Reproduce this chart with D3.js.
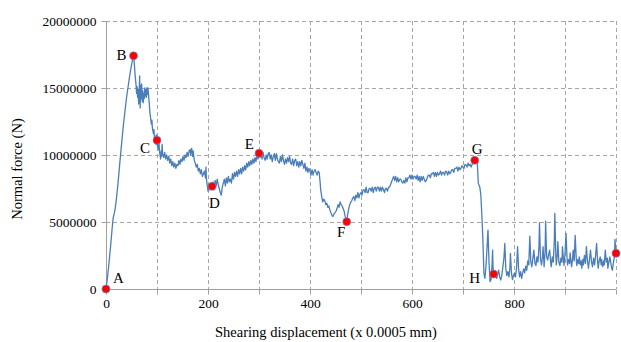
<!DOCTYPE html>
<html>
<head>
<meta charset="utf-8">
<script src="https://cdn.jsdelivr.net/npm/d3@7/dist/d3.min.js"></script>
<style>
  html, body { margin: 0; padding: 0; background: #fff; }
  svg { display: block; }
  text { font-family: "Liberation Serif", "Times New Roman", serif; fill: #000; }
</style>
</head>
<body>
<svg id="chart" width="621" height="342" font-family="Liberation Serif, serif"></svg>
<script>
// Shear test record: [shearing displacement (x 0.0005 mm), normal force (MN)]
const curve = [
  [0,0],[3,0.9],[6,2.0],[9,3.2],[12,4.5],[14,5.3],[16,5.6],[18,6.0],[20,6.6],[22,7.3],[25,8.5],[28,9.8],[31,11.0],[34,12.2],[37,13.2],[40,14.2],[43,15.0],[46,15.8],[49,16.5],[52,17.1],[54,17.4],
  [55,17.1],[57,16.0],[59,15.2],[60,14.6],[61,15.1],[62,14.3],[63,14.9],[64,13.8],[65,14.6],[66,15.9],[67,13.5],[68,15.2],[69,14.2],[70,15.3],[71,14.0],[72,14.8],[73,13.9],[74,14.6],[75,14.2],[76,15.0],[77,14.4],[78,14.9],[79,14.3],[80,15.0],[81,14.5],[82,15.0],[83,14.7],[84,14.2],[85,13.8],[86,13.2],[87,12.9],[88,12.6],[89,12.3],[90,12.6],[91,12.0],[92,11.8],[93,11.6],[94,11.9],[95,11.3],[96,11.0],[97,11.4],[98,10.8],[99,11.5],[100,11.1],
  [101,10.6],[102,11.3],[103,10.4],[104,10.9],[105,10.2],[106,10.0],[107,9.7],[108,10.3],[109,9.9],[110,10.8],[111,10.1],[113,9.8],[115,10.2],[117,9.7],[119,10.0],[121,9.6],[123,9.9],[125,9.4],[127,9.7],[129,9.2],[131,9.5],[133,9.1],[135,9.4],[137,9.0],[139,9.3],[141,9.2],[143,9.6],[145,9.3],[147,9.7],[149,9.5],[151,9.9],[153,9.6],[155,10.0],[157,9.8],[159,10.2],[161,9.9],[163,10.3],[165,10.4],[166,10.0],[168,10.5],[170,9.9],[171,10.3],[173,9.6],[175,9.4],[177,9.1],[179,9.3],[181,8.8],[183,9.0],[185,8.6],[187,8.9],[189,8.4],[191,8.6],[193,8.8],[195,8.3],[196,9.1],[197,8.2],[199,7.6],[200,7.3],[202,7.8],[204,7.4],[206,7.9],[208,7.66],
  [210,8.0],[212,7.4],[214,8.1],[216,7.7],[218,8.2],[220,7.8],[222,7.5],[224,7.2],[226,7.0],[228,7.6],[230,7.9],[232,8.2],[234,7.7],[236,8.3],[238,7.9],[240,8.4],[242,8.0],[244,8.2],[246,7.9],[248,8.6],[250,8.2],[252,8.7],[254,8.4],[256,8.8],[258,8.4],[260,8.9],[262,8.6],[264,9.0],[266,8.6],[268,9.1],[270,8.8],[272,9.2],[274,8.9],[276,9.4],[278,9.1],[280,9.5],[282,9.2],[284,9.6],[286,9.3],[288,9.7],[290,9.4],[292,9.8],[294,9.5],[296,10.0],[298,9.7],[300,10.13],
  [302,9.8],[304,10.1],[306,9.7],[308,10.2],[310,9.8],[312,9.6],[314,10.0],[316,9.7],[318,10.1],[320,10.2],[322,9.7],[324,10.0],[326,9.5],[328,9.9],[330,10.1],[332,9.6],[334,10.1],[336,9.7],[338,9.5],[340,9.4],[342,9.9],[344,9.5],[346,10.0],[348,9.6],[350,9.3],[352,9.7],[354,9.4],[356,9.8],[358,9.5],[360,9.9],[362,9.4],[364,9.3],[366,9.7],[368,9.2],[370,9.6],[372,9.7],[374,9.2],[376,9.5],[378,9.1],[380,9.5],[382,9.2],[384,9.6],[386,9.3],[388,9.0],[390,9.4],[392,8.8],[394,9.1],[396,8.7],[398,9.0],[400,8.8],[402,8.5],[404,8.9],[406,8.5],[408,8.8],[410,8.9],[412,8.7],[414,8.5],[416,8.8],[418,8.7],
  [420,7.9],[421,7.4],[423,6.9],[425,6.5],[427,6.7],[429,6.6],[431,6.3],[433,6.4],[435,6.1],[437,6.2],[439,5.9],[441,5.7],[443,5.5],[445,5.4],[447,5.6],[449,5.7],[451,5.8],[453,6.0],[455,6.3],[457,6.1],[459,6.5],[461,6.3],[463,6.2],[465,6.0],[467,5.8],[469,5.4],[472,5.02],
  [474,5.6],[476,6.0],[478,6.3],[480,6.5],[482,6.6],[484,6.8],[486,6.9],[488,6.6],[490,7.0],[492,6.8],[494,7.2],[496,6.8],[498,7.1],[500,7.2],[502,7.0],[504,7.4],[506,7.4],[508,7.2],[510,7.6],[512,7.2],[514,7.2],[516,7.5],[518,7.5],[520,7.3],[522,7.6],[524,7.2],[526,7.5],[528,7.6],[530,7.3],[532,7.6],[534,7.6],[536,7.3],[538,7.6],[540,7.3],[542,7.6],[544,7.4],[546,7.2],[548,7.5],[550,7.5],[552,7.3],[554,7.6],[556,7.6],[558,7.8],[560,8.0],[562,8.2],[564,8.4],[566,8.1],[568,8.4],[570,8.0],[572,8.3],[574,8.0],[576,8.2],[578,8.2],[580,8.0],[582,7.9],[584,8.1],[586,7.9],[588,8.3],[590,8.0],[592,8.3],[594,8.3],[596,8.5],[598,8.2],[600,8.5],
  [602,8.2],[604,8.4],[606,8.4],[608,8.2],[610,8.5],[612,8.1],[614,8.4],[616,8.0],[618,8.4],[620,8.1],[622,8.4],[624,8.2],[626,8.0],[628,8.1],[630,8.3],[632,8.5],[634,8.5],[636,8.3],[638,8.6],[640,8.6],[642,8.7],[644,8.4],[646,8.7],[648,8.4],[650,8.7],[652,8.5],[654,8.6],[656,8.8],[658,8.5],[660,8.7],[662,8.7],[664,8.5],[666,8.8],[668,8.75],[670,8.5],[672,8.8],[674,8.6],[676,8.7],[678,8.9],[680,8.9],[682,8.7],[684,9.0],[686,9.0],[688,9.1],[690,8.8],[692,9.1],[694,8.9],[696,9.0],[698,9.2],[700,9.1],[702,9.0],[704,9.3],[706,9.25],[708,9.1],[710,9.4],[712,9.2],[714,9.3],[716,9.1],[718,9.3],[720,9.5],[722,9.4],[723,9.6],
  [726,9.6],[728,9.5],[730,7.9],[733,7.6],[735,7.0],[737,5.5],[739,3.66],[741,1.17],[743,0.8],[745,1.7],[747,3.0],[749,4.4],[751,2.0],[753,0.55],[755,0.7],[757,1.8],[758,2.9],[759,1.5],[760,1.12],
  [762,0.9],[764,1.3],[766,0.8],[768,1.1],[770,1.4],[772,0.9],[774,0.67],[776,1.0],[778,1.6],[780,2.2],[782,3.4],[784,1.5],[786,1.0],[788,1.3],[790,0.9],[792,1.6],[793,2.66],[795,1.2],[797,0.7],[799,1.0],[801,1.2],[803,0.9],[805,1.6],[807,3.16],[809,1.5],[811,0.9],[813,1.3],[815,0.8],[817,1.2],[819,1.5],[821,1.2],[823,1.7],[825,1.4],[827,2.1],[829,1.8],[831,3.95],[833,2.0],[835,1.66],[837,2.3],[839,2.9],[841,1.9],[843,1.75],[845,2.4],[847,2.0],[849,3.2],[850,4.95],[852,2.2],[854,1.8],[856,2.5],[857,3.16],[859,1.66],[861,2.8],[862,5.07],[864,2.4],[866,2.16],[868,2.6],[870,2.9],[872,1.9],[873,1.66],[875,2.4],[877,2.0],[879,3.5],[880,5.65],[882,2.5],[883,1.8],[885,2.6],[886,3.53],[888,2.0],[890,1.75],[892,2.3],[894,2.0],[895,3.16],[897,2.2],[898,1.75],[900,2.6],
  [902,4.15],[904,2.3],[905,1.8],[907,2.2],[909,1.9],[910,2.7],[912,2.0],[913,1.66],[915,2.3],[916,2.9],[918,2.1],[920,4.0],[922,2.3],[923,1.75],[925,2.2],[927,1.9],[928,2.4],[930,1.8],[932,2.1],[933,1.55],[935,2.2],[936,1.8],[938,2.5],[940,1.9],[942,3.16],[944,2.1],[946,1.55],[948,2.2],[950,2.9],[952,2.0],[954,1.66],[956,2.3],[958,1.8],[960,2.5],[962,3.4],[964,2.0],[965,1.55],[967,2.1],[969,2.4],[971,1.8],[972,2.2],[974,1.66],[976,2.1],[977,1.8],[979,2.9],[981,2.0],[983,2.3],[984,1.55],[986,2.0],[988,2.4],[990,1.9],[992,1.5],[993,1.4],[995,2.0],[997,2.4],[998,3.7],[1000,2.66]
];

// Characteristic points along the curve
const keyNames = ["A", "B", "C", "D", "E", "F", "G", "H", ""];
const keyDisp  = [0, 54, 100, 208, 300, 472, 723, 760, 1000];
const keyForce = [0, 17.4, 11.1, 7.66, 10.13, 5.02, 9.6, 1.12, 2.66]; // MN

const xTicks = [0, 100, 200, 300, 400, 500, 600, 700, 800, 900, 1000];
const xLabelled = [0, 200, 400, 600, 800];
const yTicks = [0, 5000000, 10000000, 15000000, 20000000];

const MN = 1e6;
const serif = "'Liberation Serif', 'Times New Roman', serif";
const svg = d3.select("#chart");
const plotLeft = 106, plotRight = 616, plotTop = 21, plotBottom = 289;

const x = d3.scaleLinear().domain([0, 1000]).range([plotLeft, plotRight]);
const y = d3.scaleLinear().domain([0, 20000000]).range([plotBottom, plotTop]);

// dashed grid
const grid = svg.append("g").attr("stroke", "#a6a6a6").attr("stroke-width", 1)
  .attr("stroke-dasharray", "4,3").attr("fill", "none");
grid.selectAll("line.v").data(xTicks.filter(d => d > 0)).join("line")
  .attr("x1", d => Math.round(x(d)) + 0.5).attr("x2", d => Math.round(x(d)) + 0.5)
  .attr("y1", y(20000000)).attr("y2", y(0));
grid.selectAll("line.h").data(yTicks.filter(d => d > 0)).join("line")
  .attr("y1", d => Math.round(y(d)) + 0.5).attr("y2", d => Math.round(y(d)) + 0.5)
  .attr("x1", x(0)).attr("x2", x(1000));

// axes
const xAxis = d3.axisBottom(x).tickValues(xTicks).tickSize(5).tickPadding(4)
  .tickFormat(d => xLabelled.includes(d) ? d : "");
const yAxis = d3.axisLeft(y).tickValues(yTicks).tickSize(5).tickPadding(5)
  .tickFormat(d3.format("d"));

const gx = svg.append("g").attr("transform", `translate(0,${plotBottom + 0.5})`).call(xAxis);
const gy = svg.append("g").attr("transform", `translate(${plotLeft + 0.5},0)`).call(yAxis);
[gx, gy].forEach(g => {
  g.attr("font-family", serif).attr("font-size", 13.5);
  g.select(".domain").attr("stroke", "#a0a0a0").attr("stroke-width", 1);
  g.selectAll(".tick line").attr("stroke", "#a0a0a0");
  g.selectAll(".tick text").style("font-family", serif)
    .style("font-size", "13.5px").attr("fill", "#000");
});
gx.select(".domain").attr("d", `M${plotLeft},0H${plotRight}`);
gy.select(".domain").attr("d", `M0,${plotBottom}V${plotTop}`);

// axis titles
svg.append("text").attr("x", 326).attr("y", 337).attr("text-anchor", "middle")
  .style("font-family", serif).style("font-size", "14.5px")
  .text("Shearing displacement (x 0.0005 mm)");
svg.append("text").attr("transform", "translate(22,169) rotate(-90)")
  .attr("text-anchor", "middle").style("font-family", serif).style("font-size", "14.5px")
  .text("Normal force (N)");

// force curve
const line = d3.line().x(d => x(d[0])).y(d => y(d[1] * MN));
svg.append("path").datum(curve).attr("d", line)
  .attr("fill", "none").attr("stroke", "#4a7ebb").attr("stroke-width", 1.3)
  .attr("stroke-linejoin", "round");

// markers
const keys = keyNames.map((n, i) => ({ name: n, d: keyDisp[i], f: keyForce[i] * MN }));
svg.selectAll("circle.key").data(keys).join("circle")
  .attr("cx", d => x(d.d)).attr("cy", d => y(d.f)).attr("r", 4)
  .attr("fill", "#ff0000").attr("stroke", "#6b8fd0").attr("stroke-width", 0.7);

// point labels
const labelOffset = {
  A: [7, -6, "start"], B: [-7, 4.5, "end"], C: [-7, 13, "end"], D: [-3, 22, "start"],
  E: [-5, -4.5, "end"], F: [-1.5, 15, "end"], G: [-3, -6.5, "start"], H: [-13.5, 9, "end"]
};
svg.selectAll("text.key").data(keys.filter(k => k.name)).join("text")
  .attr("x", d => x(d.d) + labelOffset[d.name][0])
  .attr("y", d => y(d.f) + labelOffset[d.name][1])
  .attr("text-anchor", d => labelOffset[d.name][2])
  .style("font-family", serif).style("font-size", "15px").text(d => d.name);
</script>
</body>
</html>
